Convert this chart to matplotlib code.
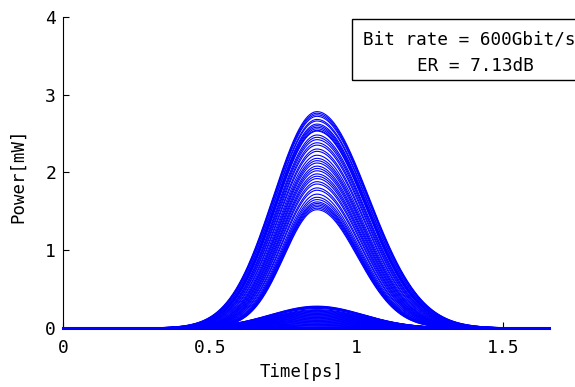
import matplotlib
matplotlib.use("Agg")
import matplotlib.pyplot as plt
from matplotlib.patches import Rectangle
import numpy as np

# peak power of the "1" pulses [mW]
one_peaks = [2.78, 2.76, 2.74, 2.72, 2.68, 2.66, 2.62, 2.60, 2.58, 2.56, 2.54, 2.53,
             2.48, 2.45, 2.42, 2.38, 2.35, 2.30, 2.27, 2.22, 2.18, 2.15, 2.12, 2.08,
             2.05, 2.02, 1.98, 1.95, 1.92, 1.88, 1.85, 1.80, 1.77, 1.72, 1.68,
             1.65, 1.62, 1.60, 1.58, 1.56, 1.54, 1.52]
# peak power of the "0" (residual) pulses [mW]
zero_peaks = [0.28, 0.275, 0.27, 0.265, 0.26, 0.25, 0.235, 0.225, 0.215, 0.205,
              0.195, 0.185, 0.175, 0.165, 0.155, 0.145, 0.135, 0.125, 0.115, 0.105,
              0.095, 0.085, 0.075, 0.065, 0.055, 0.045, 0.035, 0.025, 0.015, 0.005, 0.0]

# pulse shape
t_center = 0.865          # ps
t_end = 1.655             # ps
one_rise = (0.112, 0.149)  # rise width at lowest / highest peak [ps]
one_fall = (0.137, 0.176)  # fall width at lowest / highest peak [ps]
zero_width = 0.158

xticks = [0, 0.5, 1, 1.5]
xticklabels = ["0", "0.5", "1", "1.5"]
yticks = [0, 1, 2, 3, 4]

W, H = 575, 387
mono = "DejaVu Sans Mono"


def pulse(t, peak, rise, fall):
    s = np.where(t < t_center, rise, fall)
    return peak * np.exp(-(t - t_center) ** 2 / (2 * s ** 2))


fig = plt.figure(figsize=(W / 100, H / 100), dpi=100)
ax = fig.add_axes([63 / W, 1 - 328 / H, (549 - 63) / W, (328 - 16.7) / H])

t = np.linspace(0, t_end, 800)
lo, hi = min(one_peaks), max(one_peaks)
for p in one_peaks:
    f = (p - lo) / (hi - lo)
    rise = one_rise[0] + f * (one_rise[1] - one_rise[0])
    fall = one_fall[0] + f * (one_fall[1] - one_fall[0])
    ax.plot(t, pulse(t, p, rise, fall), color="#0000ff", lw=0.8, zorder=3, clip_on=False)
for p in zero_peaks:
    ax.plot(t, pulse(t, p, zero_width, zero_width), color="#0000ff", lw=0.9, zorder=3, clip_on=False)
ax.plot(t, np.zeros_like(t), color="#0000ff", lw=2.2, zorder=3, clip_on=False)

ax.set_xlim(0, t_end)
ax.set_ylim(0, 4)
ax.set_xticks(xticks)
ax.set_xticklabels(xticklabels)
ax.set_yticks(yticks)
ax.spines["top"].set_visible(False)
ax.spines["right"].set_visible(False)
ax.tick_params(direction="in", length=4, width=0.8, labelsize=13)
ax.tick_params(axis="x", pad=8)
ax.tick_params(axis="y", pad=5)
for lab in ax.get_xticklabels() + ax.get_yticklabels():
    lab.set_family(mono)

ax.set_xlabel("Time[ps]", family=mono, fontsize=12.5, va="center")
ax.xaxis.set_label_coords(0.5 - 0.01, (328 - 372) / (328 - 16.7))
ax.set_ylabel("Power[mW]", family=mono, fontsize=12.5, va="center")
ax.yaxis.set_label_coords((18 - 63) / (549 - 63), 0.5 - 0.01)

fig.patches.append(Rectangle((352 / W, 1 - 80 / H), (620 - 352) / W, 61 / H,
                             transform=fig.transFigure, fill=False, ec="black", lw=1))
fig.text(469 / W, 1 - 40 / H, "Bit rate = 600Gbit/s", family=mono, fontsize=12.7,
         ha="center", va="center")
fig.text(475 / W, 1 - 66 / H, "ER = 7.13dB", family=mono, fontsize=12.7,
         ha="center", va="center")

fig.savefig("out.png", dpi=100)
